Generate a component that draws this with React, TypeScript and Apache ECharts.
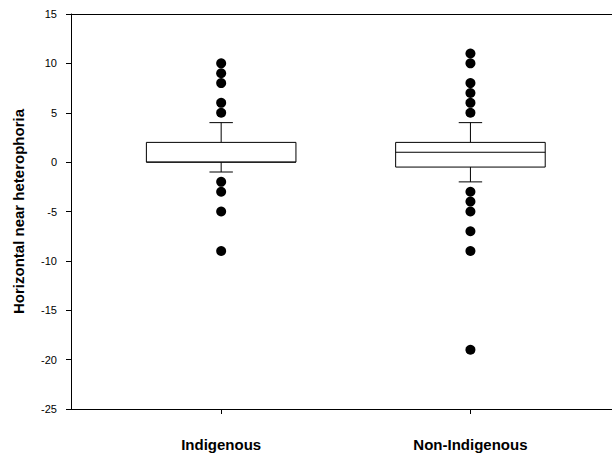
import React, { useEffect, useRef } from "react";
import * as echarts from "echarts";

const categories = ["Indigenous", "Non-Indigenous"];
const categoryPositions = [1, 2];
// [lowerWhisker, Q1, median, Q3, upperWhisker]
const boxStats = [
  [-1, 0, 0, 2, 4],
  [-2, -0.5, 1, 2, 4],
];
const indigenousOutliers = [10, 9, 8, 6, 5, -2, -3, -5, -9];
const nonIndigenousOutliers = [11, 10, 8, 7, 6, 5, -3, -4, -5, -7, -9, -19];
const yTicks = [-25, -20, -15, -10, -5, 0, 5, 10, 15];

const FONT = "Liberation Sans, Arial, sans-serif";

export default function App() {
  const ref = useRef<HTMLDivElement>(null);
  useEffect(() => {
    document.body.style.margin = "0";
    document.body.style.overflow = "hidden";
    if (!ref.current) return;
    const chart = echarts.init(ref.current, undefined, { renderer: "svg" });
    const boxData = boxStats.map((s, i) => [categoryPositions[i], ...s]);
    const outlierData: number[][] = [];
    indigenousOutliers.forEach((v) => outlierData.push([categoryPositions[0], v]));
    nonIndigenousOutliers.forEach((v) => outlierData.push([categoryPositions[1], v]));
    const halfBox = 0.3;
    const halfCap = 0.047;
    const xMin = 0.3976;
    const xMax = 2.6;
    chart.setOption({
      animation: false,
      backgroundColor: "#ffffff",
      grid: {
        left: 71,
        top: 14,
        right: 10,
        bottom: 52,
        show: false,
      },
      xAxis: [
        {
          type: "value",
          min: xMin,
          max: xMax,
          splitLine: { show: false },
          axisLine: { show: true, onZero: false, lineStyle: { color: "#000", width: 1 } },
          axisTick: {
            show: true,
            inside: false,
            length: 5,
            customValues: categoryPositions,
            lineStyle: { color: "#000" },
          },
          axisLabel: {
            show: true,
            customValues: categoryPositions,
            formatter: (v: number) => categories[categoryPositions.indexOf(Math.round(v))] ?? "",
            margin: 28,
            fontFamily: FONT,
            fontSize: 15,
            fontWeight: "bold",
            color: "#000",
          },
        },
        {
          type: "value",
          position: "top",
          min: xMin,
          max: xMax,
          splitLine: { show: false },
          axisLine: { show: true, onZero: false, lineStyle: { color: "#000", width: 1 } },
          axisTick: { show: false },
          axisLabel: { show: false },
        },
      ],
      yAxis: {
        type: "value",
        min: -25,
        max: 15,
        interval: 5,
        splitLine: { show: false },
        axisLine: { show: true, onZero: false, lineStyle: { color: "#000", width: 1 } },
        axisTick: { show: true, inside: false, length: 5, lineStyle: { color: "#000" } },
        axisLabel: {
          fontFamily: FONT,
          fontSize: 11,
          color: "#000",
          margin: 14,
          formatter: (v: number) => (yTicks.includes(v) ? String(v) : ""),
        },
        name: "Horizontal near heterophoria",
        nameLocation: "middle",
        nameGap: 45,
        nameTextStyle: {
          fontFamily: FONT,
          fontSize: 15,
          fontWeight: "bold",
          color: "#000",
        },
      },
      series: [
        {
          type: "custom",
          data: boxData,
          renderItem: (params: any, api: any) => {
            const x = api.value(0);
            const lo = api.value(1);
            const q1 = api.value(2);
            const med = api.value(3);
            const q3 = api.value(4);
            const hi = api.value(5);
            const pLo = api.coord([x, lo]);
            const pHi = api.coord([x, hi]);
            const pQ1L = api.coord([x - halfBox, q1]);
            const pQ3R = api.coord([x + halfBox, q3]);
            const pMedL = api.coord([x - halfBox, med]);
            const pMedR = api.coord([x + halfBox, med]);
            const pQ1 = api.coord([x, q1]);
            const pQ3 = api.coord([x, q3]);
            const capL = api.coord([x - halfCap, lo]);
            const capR = api.coord([x + halfCap, lo]);
            const capL2 = api.coord([x - halfCap, hi]);
            const capR2 = api.coord([x + halfCap, hi]);
            const ls = { stroke: "#000", lineWidth: 1, fill: null };
            return {
              type: "group",
              children: [
                { type: "line", shape: { x1: pQ3[0], y1: pQ3[1], x2: pHi[0], y2: pHi[1] }, style: ls },
                { type: "line", shape: { x1: pQ1[0], y1: pQ1[1], x2: pLo[0], y2: pLo[1] }, style: ls },
                { type: "line", shape: { x1: capL2[0], y1: capL2[1], x2: capR2[0], y2: capR2[1] }, style: ls },
                { type: "line", shape: { x1: capL[0], y1: capL[1], x2: capR[0], y2: capR[1] }, style: ls },
                {
                  type: "rect",
                  shape: {
                    x: pQ1L[0],
                    y: pQ3R[1],
                    width: pQ3R[0] - pQ1L[0],
                    height: pQ1L[1] - pQ3R[1],
                  },
                  style: { stroke: "#000", lineWidth: 1, fill: "#fff" },
                },
                { type: "line", shape: { x1: pMedL[0], y1: pMedL[1], x2: pMedR[0], y2: pMedR[1] }, style: ls },
              ],
            };
          },
        },
        {
          type: "scatter",
          data: outlierData,
          symbol: "circle",
          symbolSize: 10,
          itemStyle: { color: "#000", opacity: 1 },
        },
      ],
    });
    return () => chart.dispose();
  }, []);
  return <div ref={ref} style={{ width: 630, height: 461 }} />;
}
